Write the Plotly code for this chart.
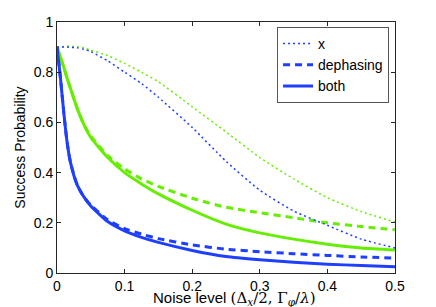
import plotly.graph_objects as go

noise = [0, 0.005, 0.01, 0.015, 0.02, 0.03, 0.04, 0.05, 0.075, 0.1, 0.125, 0.15,
         0.2, 0.25, 0.3, 0.35, 0.4, 0.45, 0.5]

blue_x = [0.9, 0.9, 0.9, 0.9, 0.899, 0.897, 0.891, 0.882, 0.845, 0.80, 0.755, 0.70,
          0.58, 0.445, 0.33, 0.247, 0.19, 0.135, 0.10]
blue_dephasing = [0.9, 0.78, 0.64, 0.52, 0.44, 0.35, 0.302, 0.27, 0.212, 0.177, 0.155, 0.137,
                  0.112, 0.095, 0.085, 0.077, 0.07, 0.064, 0.059]
blue_both = [0.9, 0.78, 0.64, 0.52, 0.44, 0.35, 0.302, 0.267, 0.205, 0.168, 0.142, 0.122,
             0.09, 0.066, 0.053, 0.043, 0.035, 0.03, 0.025]

green_x = [0.9, 0.901, 0.902, 0.903, 0.903, 0.902, 0.897, 0.888, 0.866, 0.835, 0.8, 0.762,
           0.662, 0.562, 0.46, 0.375, 0.30, 0.245, 0.203]
green_dephasing = [0.9, 0.86, 0.82, 0.775, 0.735, 0.655, 0.59, 0.545, 0.468, 0.415, 0.375, 0.345,
                   0.298, 0.262, 0.24, 0.22, 0.2, 0.185, 0.172]
green_both = [0.9, 0.86, 0.82, 0.775, 0.735, 0.655, 0.59, 0.54, 0.46, 0.40, 0.355, 0.315,
              0.25, 0.195, 0.16, 0.135, 0.115, 0.10, 0.092]

BLUE = "#1f3fff"
GREEN = "#66ee00"
FONT = "Liberation Sans, Arial, sans-serif"

fig = go.Figure()

series = [
    ("x", green_x, GREEN, "2px,3px", 1.5, False),
    ("dephasing", green_dephasing, GREEN, "7px,5px", 3, False),
    ("both", green_both, GREEN, "solid", 3, False),
    ("x", blue_x, BLUE, "2px,3px", 1.5, True),
    ("dephasing", blue_dephasing, BLUE, "7px,5px", 3, True),
    ("both", blue_both, BLUE, "solid", 3, True),
]
for name, ys, col, dash, w, leg in series:
    fig.add_trace(go.Scatter(
        x=noise, y=ys, mode="lines", name=name, showlegend=leg,
        line=dict(color=col, dash=dash, width=w, shape="spline", smoothing=0.6),
    ))

axis_common = dict(
    showgrid=False, zeroline=False, showline=True, linecolor="#262626", linewidth=1,
    mirror="allticks", ticks="inside", ticklen=4, tickcolor="#262626", automargin=False,
    tickfont=dict(family=FONT, size=14, color="black"),
)

fig.update_layout(
    width=428, height=299,
    margin=dict(l=49, r=41, t=14, b=34, autoexpand=False),
    paper_bgcolor="white", plot_bgcolor="white",
    font=dict(family=FONT, size=14, color="black"),
    xaxis=dict(range=[0, 0.5], tickvals=[0, 0.1, 0.2, 0.3, 0.4, 0.5],
               ticktext=["0", "0.1", "0.2", "0.3", "0.4", "0.5"], **axis_common),
    yaxis=dict(range=[0, 1], tickvals=[0, 0.2, 0.4, 0.6, 0.8, 1],
               ticktext=["0", "0.2", "0.4", "0.6", "0.8", "1"], **axis_common),
    legend=dict(x=0.651, y=0.98, xanchor="left", yanchor="top",
                bgcolor="white", bordercolor="#555555", borderwidth=1,
                font=dict(size=14), tracegroupgap=0, itemwidth=30),
    annotations=[
        dict(text="Noise level <span style='font-family:DejaVu Serif;font-size:15px'>(Δ<sub><i>x</i></sub>/2, Γ<sub><i>φ</i></sub>/<i>λ</i>)</span>",
             xref="paper", yref="paper", x=0.525, y=-0.1, xanchor="center", yanchor="middle",
             showarrow=False, font=dict(family=FONT, size=15, color="black")),
        dict(text="Success Probability", textangle=-90,
             xref="paper", yref="paper", x=-0.112, y=0.5, xanchor="center", yanchor="middle",
             showarrow=False, font=dict(family=FONT, size=14, color="black")),
    ],
)

fig.write_html("out.html")
